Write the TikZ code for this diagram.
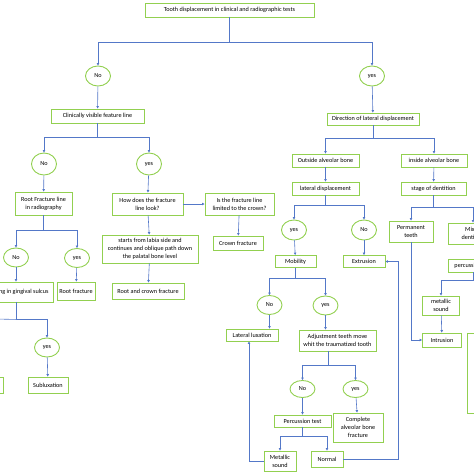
\documentclass[tikz,border=0pt]{standalone}
\usepackage{fontspec}
\setmainfont{Carlito}
\usepackage{tikz}
\usetikzlibrary{arrows.meta,shapes.geometric}
\definecolor{boxgreen}{RGB}{146,208,80}
\definecolor{lineblue}{RGB}{84,120,200}

\begin{document}
\begin{tikzpicture}[x=1pt,y=-1pt,font=\fontsize{6.2}{8}\selectfont,
  box/.style={draw=boxgreen,line width=0.9pt,fill=white,align=center,inner sep=0pt},
  answer/.style={ellipse,draw=boxgreen,line width=0.9pt,fill=white,inner sep=0pt,minimum width=25pt,minimum height=20pt},
  ln/.style={draw=lineblue,line width=0.6pt},
  arr/.style={ln,-{Triangle[length=2.4pt,width=2.4pt]}}]
\clip (0,0) rectangle (474,474);

\node[box,minimum width=169,minimum height=14] (top) at (229.5,10) {Tooth displacement in clinical and radiographic tests};
\node[answer] (noA) at (98,76) {No};
\node[answer] (yesA) at (372,76) {yes};
\node[box,minimum width=93,minimum height=14] (clin) at (97.5,116) {Clinically visible feature line};
\node[box,minimum width=92,minimum height=12] (direc) at (373,119) {Direction of lateral displacement};

\node[answer,minimum height=22pt] (noB) at (44,164) {No};
\node[answer,minimum height=22pt] (yesB) at (149,164) {yes};
\node[box,minimum width=57,minimum height=23] (rootline) at (43.5,203.5) {Root Fracture line\\in radiography};
\node[box,minimum width=71,minimum height=22] (how) at (147.5,204) {How does the fracture\\line look?};
\node[box,minimum width=69,minimum height=22] (isfr) at (239.5,204) {Is the fracture line\\limited to the crown?};
\node[box,minimum width=96,minimum height=28] (starts) at (150,249) {starts from labia side and\\continues and oblique path down\\the palatal bone level};
\node[box,minimum width=72,minimum height=16] (rootcrown) at (148,291) {Root and crown fracture};
\node[box,minimum width=50,minimum height=14] (crown) at (238,243) {Crown fracture};

\node[answer,minimum height=19pt] (noC) at (16,257.5) {No};
\node[answer,minimum height=19pt] (yesC) at (77,258) {yes};
\node[box,minimum width=74,minimum height=20] (bleed) at (16,292) {Bleeding in gingival sulcus};
\node[box,minimum width=38,minimum height=18] (rootfr) at (76,291) {Root fracture};
\node[answer,minimum height=19pt] (yesD) at (47,347.5) {yes};
\node[box,minimum width=40,minimum height=16] (sublux) at (48,385) {Subluxation};
\node[box,minimum width=46,minimum height=16] (leftcut) at (-20,385) {};

\node[box,minimum width=67,minimum height=13] (outside) at (325.5,160.5) {Outside alveolar bone};
\node[box,minimum width=66,minimum height=13] (inside) at (434,160.5) {inside alveolar bone};
\node[box,minimum width=67,minimum height=13] (latdisp) at (325.5,188.5) {lateral displacement};
\node[box,minimum width=65,minimum height=13] (stage) at (433.5,188.5) {stage of dentition};
\node[answer] (yesE) at (294,230) {yes};
\node[answer] (noE) at (364,230) {No};
\node[box,minimum width=41,minimum height=12] (mob) at (295.5,261.5) {Mobility};
\node[box,minimum width=42,minimum height=12] (extr) at (364,261.5) {Extrusion};
\node[box,minimum width=44,minimum height=21] (perm) at (411,231.5) {Permanent\\teeth};
\node[box,minimum width=50,minimum height=21] (mixed) at (473,233.5) {Mixed\\dentition};
\node[box,minimum width=51,minimum height=13] (percus) at (473.5,265.5) {percussion test};
\node[box,minimum width=37,minimum height=19] (metal1) at (441,305.5) {metallic\\sound};
\node[box,minimum width=39,minimum height=14] (intr) at (442,340) {Intrusion};
\node[box,minimum width=46,minimum height=80] (rightcut) at (490,373) {};

\node[answer,minimum height=19pt] (noF) at (269.5,305) {No};
\node[answer,minimum height=19pt] (yesF) at (325.5,305.5) {yes};
\node[box,minimum width=52,minimum height=12] (latlux) at (252,335) {Lateral luxation};
\node[box,minimum width=77,minimum height=21] (adjust) at (337.5,340.5) {Adjustment teeth move\\whit the traumatized tooth};
\node[answer,minimum height=17pt] (noG) at (302.5,389) {No};
\node[answer,minimum height=17pt] (yesG) at (355.5,389) {yes};
\node[box,minimum width=57,minimum height=12] (perc) at (302.5,421) {Percussion test};
\node[box,minimum width=50,minimum height=29] (complete) at (358,427.5) {Complete\\alveolar bone\\fracture};
\node[box,minimum width=32,minimum height=20] (metal2) at (280,461) {Metallic\\sound};
\node[box,minimum width=32,minimum height=16] (normal) at (327,459) {Normal};

\foreach \a/\b/\d in {top/noA/25,top/yesA/25,clin/noB/14,clin/yesB/14,direc/outside/13,direc/inside/13,
  rootline/noC/15,rootline/yesC/15,latdisp/yesE/10,latdisp/noE/10,stage/perm/12,stage/mixed/12,
  mob/noF/10.5,mob/yesF/10.5,perc/metal2/9,perc/normal/9,percus/metal1/8,bleed/yesD/17}
  \draw[arr] (\a.south) -- ++(0,\d) -| (\b.north);
\draw[arr] ([xshift=-9.5pt]adjust.south) -- ++(0,14) -| (noG.north);
\draw[arr] ([xshift=-9.5pt]adjust.south) -- ++(0,14) -| (yesG.north);
\draw[ln] (bleed.south) ++(0,17) -- (-5,319);

\foreach \a/\b in {noA/clin,yesA/direc,noB/rootline,yesB/how,how/starts,starts/rootcrown,isfr/crown,
  noC/bleed,yesC/rootfr,yesD/sublux,outside/latdisp,inside/stage,yesE/mob,noE/extr,metal1/intr,
  noG/perc,yesG/complete}
  \draw[arr] (\a) -- (\b);
\draw[arr] (how) -- (isfr);
\draw[arr] (noF.south) -- (noF.south |- latlux.north);
\draw[arr] (yesF.south) -- (yesF.south |- adjust.north);
\draw[arr] (perm.south) |- (intr.west);
\draw[arr] (metal2.west) -| ([xshift=-3pt]latlux.south);
\draw[arr] (normal.east) -- ++(55,0) |- (extr.east);
\end{tikzpicture}
\end{document}
